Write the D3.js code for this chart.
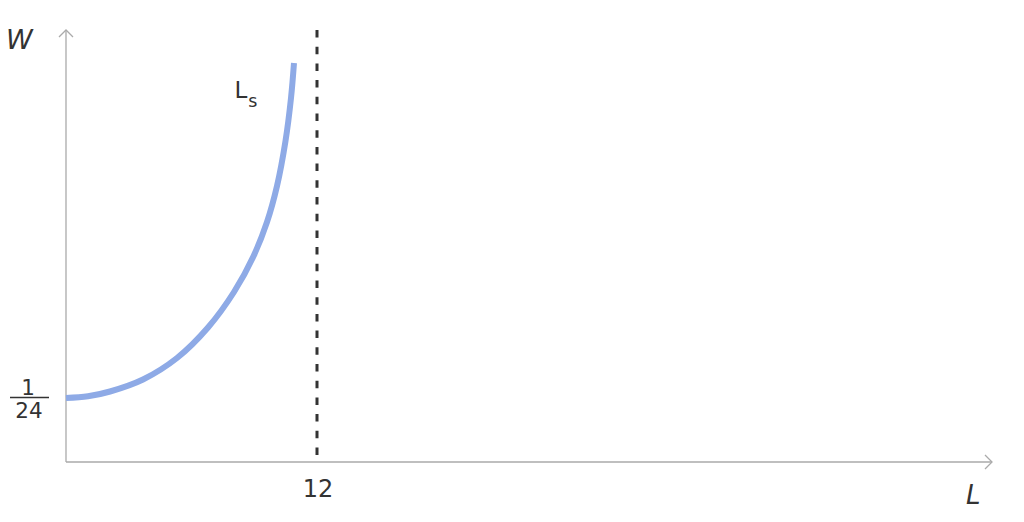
<!DOCTYPE html>
<html><head><meta charset="utf-8">
<script src="https://cdn.jsdelivr.net/npm/d3@7"></script>
<style>body{margin:0;background:#fff}svg{display:block}text{font-family:"DejaVu Sans",Verdana,sans-serif;fill:#333}</style>
</head><body><svg id="c" width="1024" height="522"></svg>
<script>
// Labor supply curve Ls (L = hours, W = wage)
const supplyL = [0, 1.052, 2.104, 3.681, 5.307, 6.789, 8.032, 8.969, 9.610, 10.088, 10.494, 10.757, 10.900];
const supplyW = [0.041667, 0.042773, 0.045898, 0.053711, 0.067708, 0.087565, 0.110677, 0.134115, 0.15625, 0.179688, 0.208984, 0.236979, 0.259766];
const limitL = 12;
const xTickLabels = ["12"];
const yTickNum = "1", yTickDen = "24";
const yTickValue = 1/24;

const svg = d3.select("#c");
const x = d3.scaleLinear().domain([0, 12]).range([66, 317]);
const y = d3.scaleLinear().domain([0, 1/24]).range([462, 398]);
const axisColor = "#aaa";

// axes
svg.append("line").attr("x1",66).attr("y1",462).attr("x2",992).attr("y2",462).attr("stroke",axisColor).attr("stroke-width",1.3);
svg.append("line").attr("x1",66).attr("y1",462).attr("x2",66).attr("y2",30).attr("stroke",axisColor).attr("stroke-width",1.3);
svg.append("path").attr("d","M985,455 L992,462 L985,469").attr("fill","none").attr("stroke",axisColor).attr("stroke-width",1.3);
svg.append("path").attr("d","M59,37 L66,30 L73,37").attr("fill","none").attr("stroke",axisColor).attr("stroke-width",1.3);

// dashed limit line
svg.append("line").attr("x1",x(limitL)).attr("x2",x(limitL)).attr("y1",30).attr("y2",462)
  .attr("stroke","#333").attr("stroke-width",3).attr("stroke-dasharray","7.5,9.2");

// supply curve
const pts = supplyL.map((l,i)=>[l, supplyW[i]]);
svg.append("path").datum(pts)
  .attr("d", d3.line().x(d=>x(d[0])).y(d=>y(d[1])).curve(d3.curveCatmullRom.alpha(0.5)))
  .attr("fill","none").attr("stroke","#8eaae6").attr("stroke-width",6);

// labels
svg.append("text").attr("x",x(limitL)+1).attr("y",497).attr("text-anchor","middle").attr("font-size",24).text(xTickLabels[0]);
svg.append("text").attr("x",28).attr("y",395).attr("text-anchor","middle").attr("font-size",21.5).text(yTickNum);
svg.append("line").attr("x1",10).attr("x2",49).attr("y1",y(yTickValue)-0.5).attr("y2",y(yTickValue)-0.5).attr("stroke","#333").attr("stroke-width",1.3);
svg.append("text").attr("x",29).attr("y",418).attr("text-anchor","middle").attr("font-size",21.5).text(yTickDen);
svg.append("text").attr("x",6).attr("y",48.5).attr("font-size",27).attr("font-style","italic").text("W");
svg.append("text").attr("x",966).attr("y",504).attr("font-size",26).attr("font-style","italic").text("L");
const ls = svg.append("text").attr("x",234.5).attr("y",97.7).attr("font-size",23);
ls.append("tspan").text("L");
ls.append("tspan").attr("font-size",17.5).attr("dy",9.6).attr("dx",1).text("s");
</script></body></html>
